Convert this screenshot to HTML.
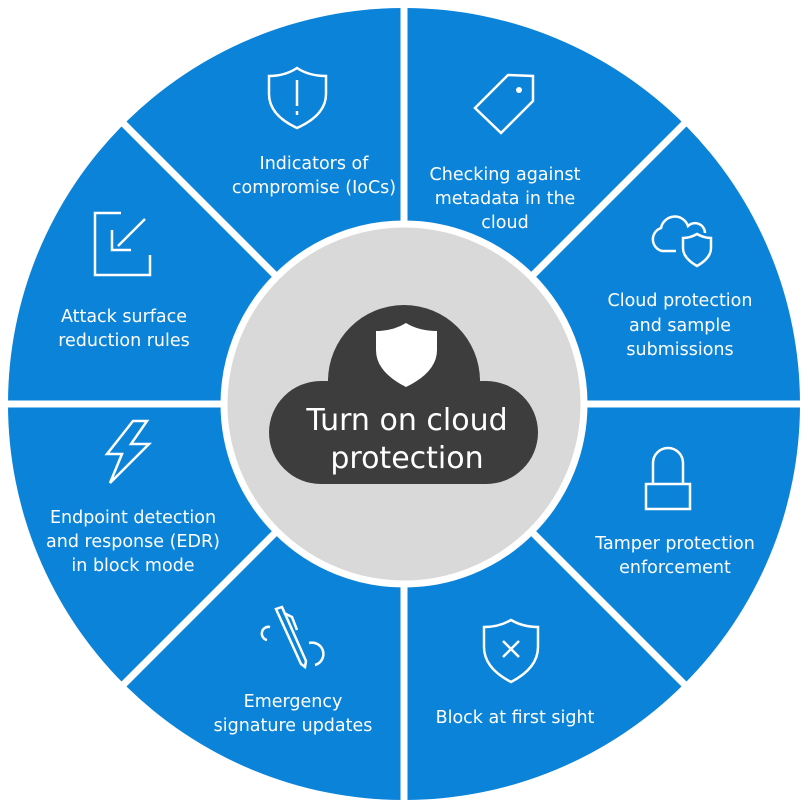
<!DOCTYPE html>
<html><head><meta charset="utf-8"><style>
html,body{margin:0;padding:0;background:#fff;width:808px;height:808px;overflow:hidden}
text{font-family:"DejaVu Sans","Liberation Sans",sans-serif;fill:#fff}
</style></head><body>
<svg width="808" height="808" viewBox="0 0 808 808" xmlns="http://www.w3.org/2000/svg">
<circle cx="404" cy="404" r="396" fill="#0b83d9"/>
<g stroke="#fff" stroke-width="7">
<line x1="404" y1="0" x2="404" y2="808"/>
<line x1="0" y1="404" x2="808" y2="404"/>
<line x1="110" y1="110" x2="698" y2="698"/>
<line x1="698" y1="110" x2="110" y2="698"/>
</g>
<circle cx="404" cy="404" r="180" fill="#d9d9d9" stroke="#fff" stroke-width="7"/>
<g fill="#3d3d3d">
<path d="M328 381 A76 76 0 0 1 480 381 Z"/>
<rect x="328" y="378" width="152" height="10"/>
<rect x="269" y="381" width="269" height="103" rx="52" ry="52"/>
</g>
<path d="M376 331 Q393 331 406 323 Q419 331 437 331 L437 350 Q437 372 406 387 Q376 372 376 350 Z" fill="#fff"/>
<g text-anchor="middle">
<text x="407" y="430" font-size="30">Turn on cloud</text>
<text x="407" y="468" font-size="30">protection</text>
</g>
<g text-anchor="middle" font-size="17.5">
<text x="314" y="169">Indicators of</text>
<text x="314" y="193">compromise (IoCs)</text>
<text x="505" y="180">Checking against</text>
<text x="505" y="204">metadata in the</text>
<text x="505" y="228">cloud</text>
<text x="680" y="306">Cloud protection</text>
<text x="680" y="331">and sample</text>
<text x="680" y="355">submissions</text>
<text x="675" y="549">Tamper protection</text>
<text x="675" y="573">enforcement</text>
<text x="515" y="723">Block at first sight</text>
<text x="293" y="707">Emergency</text>
<text x="293" y="731">signature updates</text>
<text x="133" y="523">Endpoint detection</text>
<text x="133" y="547">and response (EDR)</text>
<text x="133" y="571">in block mode</text>
<text x="124" y="322">Attack surface</text>
<text x="124" y="346">reduction rules</text>
</g>
<g fill="none" stroke="#fff" stroke-width="2.5" stroke-linejoin="miter">
<path d="M269 76 Q285 76 297 68 Q309 76 326 76 L326 94 Q326 115 297 128 Q269 115 269 94 Z"/>
<line x1="297" y1="80" x2="297" y2="106"/><line x1="297" y1="111" x2="297" y2="115"/>
<path d="M475 108 L508 75 L533 76 L533 101 L501 133 Z"/>
<circle cx="519" cy="90" r="3" fill="#fff" stroke="none"/>
<path d="M676 251 L662 251 A12 12 0 0 1 661 228 A14 14 0 0 1 688 226 A10 10 0 0 1 705 233"/>
<path d="M683 238 Q690 238 697 234 Q704 238 711 238 L711 248 Q711 258 697 266 Q683 258 683 248 Z"/>
<path d="M121 213 L95 213 L95 275 L150 275 L150 255"/>
<line x1="118" y1="246" x2="145" y2="219"/>
<path d="M112 230 L112 250 L131 250"/>
<path d="M133 421 L147 421 L131 444 L149 444 L110 483 L122 454 L107 454 Z"/>
<path d="M653 484 L653 463 A15 15 0 0 1 683 463 L683 484"/>
<rect x="646" y="484" width="44" height="25"/>
<path d="M484 627 Q499 627 511 620 Q523 627 538 627 L538 647 Q538 668 511 682 Q484 668 484 647 Z"/>
<line x1="503" y1="641" x2="519" y2="657"/><line x1="519" y1="641" x2="503" y2="657"/>
<path d="M276 609 L301 664 L305 667 L306 661 L282 607 Z"/>
<path d="M284 613 L292 617 L297 630"/>
<path d="M270 627 A6 6 0 0 0 267 640"/>
<path d="M309 643 A11 11 0 0 1 315 665"/>
</g>
</svg>
</body></html>
